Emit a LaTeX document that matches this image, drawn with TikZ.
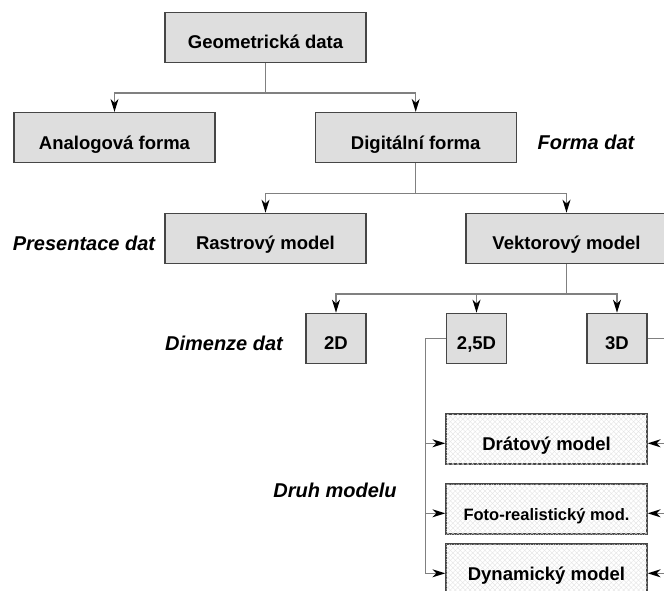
\documentclass[tikz,border=0pt]{standalone}
\usepackage{fontspec}
\setmainfont{Liberation Sans}
\usetikzlibrary{arrows.meta,patterns.meta}
\definecolor{BoxFill}{RGB}{222,222,222}
\definecolor{BoxLine}{RGB}{70,70,70}
\definecolor{WireGray}{RGB}{128,128,128}
\definecolor{HatchGray}{RGB}{226,226,226}
\tikzset{
  box/.style={draw=BoxLine,fill=BoxFill,line width=1.3pt,minimum width=201pt,
    minimum height=50pt,inner sep=0pt,text height=23pt,text depth=0pt,
    font=\fontsize{18.5}{20}\selectfont\bfseries},
  dimbox/.style={box,minimum width=60pt},
  hatchbox/.style={box,fill=white,
    postaction={pattern={Lines[angle=45,distance=3.5pt,line width=0.35pt]},pattern color=HatchGray},
    postaction={pattern={Lines[angle=-45,distance=3.5pt,line width=0.35pt]},pattern color=HatchGray}},
  tier/.style={anchor=base,inner sep=0pt,font=\fontsize{20}{24}\selectfont\bfseries\itshape},
  wire/.style={draw=WireGray,line width=1.2pt},
  feed/.style={wire,-{Stealth[length=13pt,width=8pt,inset=4pt,color=black]}}
}

\begin{document}
\begin{tikzpicture}[x=1pt,y=-1pt]

\clip (0,0) rectangle (664,590);

% boxes
\node[box] (geo) at (265.5,37.3) {Geometrická data};
\node[box] (analog) at (114.5,137.5) {Analogová forma};
\node[box] (digit) at (415.7,137.5) {Digitální forma};
\node[box] (raster) at (265.5,238.3) {Rastrový model};
\node[box] (vector) at (566.5,238.3) {Vektorový model};
\node[dimbox] (d2) at (336,338.3) {2D};
\node[dimbox] (d25) at (476.5,338.3) {2,5D};
\node[dimbox] (d3) at (617,338.3) {3D};
\node[hatchbox] (wire) at (546.5,439) {Drátový model};
\node[hatchbox,font=\fontsize{16.5}{20}\selectfont\bfseries] (photo) at (546.5,509)
  {Foto-realistický mod.};
\node[hatchbox] (dyn) at (546.5,569) {Dynamický model};

% level labels
\node[tier] (lbform) at (586,149) {Forma dat};
\node[tier] (lbpres) at (84,250) {Presentace dat};
\node[tier] (lbdim) at (224,350) {Dimenze dat};
\node[tier] (lbkind) at (335,497) {Druh modelu};

% tree connectors
\draw[wire] (geo.south) -- ++(0,30) coordinate (geojoint);
\draw[feed] (geojoint) -| (analog.north);
\draw[feed] (geojoint) -| (digit.north);

\draw[wire] (digit.south) -- ++(0,30) coordinate (digitjoint);
\draw[feed] (digitjoint) -| (raster.north);
\draw[feed] (digitjoint) -| (vector.north);

\draw[wire] (vector.south) -- ++(0,30) coordinate (vectorjoint);
\draw[feed] (vectorjoint) -| (d2.north);
\draw[feed] (vectorjoint) -| (d25.north);
\draw[feed] (vectorjoint) -| (d3.north);

% side buses to the model kinds
\foreach \m in {wire,photo,dyn}{
  \coordinate (\m-in) at ([yshift=-4.3pt]\m.west);
  \coordinate (\m-out) at ([yshift=-4.3pt]\m.east);
}
\draw[feed] (d25.west) -- ++(-20.5,0) coordinate (leftbus) |- (dyn-in);
\draw[feed] (leftbus |- wire-in) -- (wire-in);
\draw[feed] (leftbus |- photo-in) -- (photo-in);

\draw[feed] (d3.east) -- ++(20.5,0) coordinate (rightbus) |- (dyn-out);
\draw[feed] (rightbus |- wire-out) -- (wire-out);
\draw[feed] (rightbus |- photo-out) -- (photo-out);

\end{tikzpicture}
\end{document}
